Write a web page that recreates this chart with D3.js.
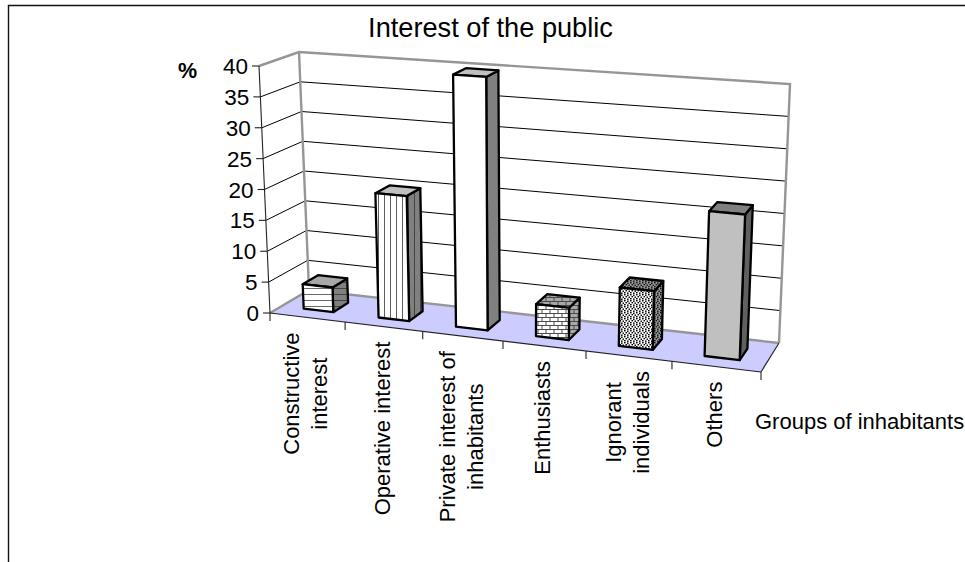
<!DOCTYPE html>
<html>
<head>
<meta charset="utf-8">
<style>
html,body{margin:0;padding:0;background:#fff;overflow:hidden}
text{font-family:"Liberation Sans",Arial,sans-serif;fill:#000}
</style>
<script src="https://cdn.jsdelivr.net/npm/d3@7"></script>
</head>
<body>
<svg id="chart" width="965" height="562"></svg>
<script>
const categories = [["Constructive","interest"],["Operative interest"],["Private interest of","inhabitants"],["Enthusiasts"],["Ignorant","individuals"],["Others"]];
const values = [4, 20, 40, 5, 9, 22];
const valueTicks = [0, 5, 10, 15, 20, 25, 30, 35, 40];
const frontFills = ["url(#hlines)", "url(#vlines)", "#ffffff", "url(#brick)", "url(#dots)", "#c0c0c0"];
const topFills = ["#a8a8a8", "#c0c0c0", "#c0c0c0", "url(#brickDark)", "url(#dotsDark)", "#808080"];
const sideFills = ["url(#hlinesDark)", "url(#vlinesDark)", "#808080", "url(#brickDark)", "url(#dotsDark)", "#606060"];

const svg = d3.select("#chart");

// Box corners on screen: front/back, bottom/top, left/right
const corners = {
  fbl: [270, 313], fbr: [761, 372], ftl: [259, 66], ftr: [772, 103],
  bbl: [309, 290], bbr: [779, 343], btl: [299, 52], btr: [790, 84]
};
const sideWeight = 0.903;

const uScale = d3.scaleBand().domain(d3.range(categories.length)).range([0, 1]).paddingInner(0.6).paddingOuter(0.3);
const vScale = d3.scaleLinear().domain([0, 40]).range([0, 1]);
const depthBar = [0.3, 0.7];

// Perspective-weighted interpolation across the box
function project(u, d, v) {
  const c = corners;
  const mix = (a, b, t) => [a[0] + (b[0] - a[0]) * t, a[1] + (b[1] - a[1]) * t];
  const fl = mix(c.fbl, c.ftl, v), fr = mix(c.fbr, c.ftr, v);
  const bl = mix(c.bbl, c.btl, v), br = mix(c.bbr, c.btr, v);
  const wu = sideWeight * u / ((1 - u) + sideWeight * u);
  return mix(mix(fl, fr, wu), mix(bl, br, wu), d);
}
const poly = pts => pts.map(p => p.map(n => n.toFixed(1)).join(",")).join(" ");

// Fill patterns for the bars
const defs = svg.append("defs");
function pattern(id, w, h, bg, draw) {
  const p = defs.append("pattern").attr("id", id).attr("patternUnits", "userSpaceOnUse").attr("width", w).attr("height", h);
  p.append("rect").attr("width", w).attr("height", h).attr("fill", bg);
  draw(p);
}
const hl = ink => p => p.append("line").attr("x1", 0).attr("x2", 6).attr("y1", 0.5).attr("y2", 0.5).attr("stroke", ink).attr("stroke-width", 0.8);
const vl = ink => p => p.append("line").attr("x1", 0.5).attr("x2", 0.5).attr("y1", 0).attr("y2", 6).attr("stroke", ink).attr("stroke-width", 0.8);
pattern("hlines", 6, 6, "#ffffff", hl("#444"));
pattern("hlinesDark", 6, 6, "#808080", hl("#333"));
pattern("vlines", 6, 6, "#ffffff", vl("#333"));
pattern("vlinesDark", 6, 6, "#808080", vl("#333"));
const brick = ink => p => p.append("path").attr("d", "M0 1.5H8M0 5.5H8M2 1.5V5.5M6 5.5V8M6 0V1.5").attr("fill", "none").attr("stroke", ink).attr("stroke-width", 0.8);
pattern("brick", 8, 8, "#ffffff", brick("#222"));
pattern("brickDark", 8, 8, "#a8a8a8", brick("#333"));
const dots = ink => p => {
  [[0, 0], [3, 0.5], [1.5, 2], [4.5, 2.5], [0, 4], [3, 4.5]].forEach(d => p.append("rect").attr("x", d[0]).attr("y", d[1]).attr("width", 1.6).attr("height", 1.4).attr("fill", ink));
};
pattern("dots", 6, 6, "#ffffff", dots("#000"));
pattern("dotsDark", 6, 6, "#999999", dots("#111"));

// Outer chart frame
svg.append("path").attr("d", "M8.5 562V5.5H965").attr("fill", "none").attr("stroke", "#111").attr("stroke-width", 1.4);

// Floor, gridlines, wall edges
const wallGrey = "#969696";
svg.append("polygon").attr("points", poly([project(0, 0, 0), project(1, 0, 0), project(1, 1, 0), project(0, 1, 0)])).attr("fill", "#ccccff");
valueTicks.slice(1, -1).forEach(t => {
  const v = vScale(t);
  svg.append("polyline").attr("points", poly([project(0, 0, v), project(0, 1, v), project(1, 1, v)])).attr("fill", "none").attr("stroke", "#000").attr("stroke-width", 1);
});
svg.append("polyline").attr("points", poly([project(0, 0, 0), project(0, 1, 0), project(1, 1, 0)])).attr("fill", "none").attr("stroke", wallGrey).attr("stroke-width", 2.4);
svg.append("polyline").attr("points", poly([project(0, 0, 1), project(0, 1, 1), project(1, 1, 1), project(1, 1, 0)])).attr("fill", "none").attr("stroke", wallGrey).attr("stroke-width", 2.4);
svg.append("polyline").attr("points", poly([project(0, 1, 0), project(0, 1, 1)])).attr("fill", "none").attr("stroke", wallGrey).attr("stroke-width", 2.4);

// Axis lines and tick marks
const axisInk = "#222";
const seg = (a, b) => svg.append("line").attr("x1", a[0]).attr("y1", a[1]).attr("x2", b[0]).attr("y2", b[1]).attr("stroke", axisInk).attr("stroke-width", 1.1);
seg(project(0, 0, 0), project(0, 0, 1));
seg(project(0, 0, 0), project(1, 0, 0));
seg(project(1, 0, 0), project(1, 1, 0));
valueTicks.forEach(t => {
  const p = project(0, 0, vScale(t));
  seg([p[0] - 7, p[1]], p);
  svg.append("text").attr("x", p[0] - 11).attr("y", p[1] + 8).attr("text-anchor", "end").attr("font-size", 22.5).text(t);
});
d3.range(categories.length + 1).forEach(i => {
  const p = project(i / categories.length, 0, 0);
  seg(p, [p[0], p[1] + 8]);
});

// Bars, drawn from their value through the band and value scales
values.forEach((val, i) => {
  const u0 = uScale(i), u1 = u0 + uScale.bandwidth(), v = vScale(val);
  const [d0, d1] = depthBar;
  const group = svg.append("g").attr("stroke", "#000").attr("stroke-width", 2.3).attr("stroke-linejoin", "round");
  group.append("polygon").attr("points", poly([project(u1, d0, 0), project(u1, d1, 0), project(u1, d1, v), project(u1, d0, v)])).attr("fill", sideFills[i]);
  group.append("polygon").attr("points", poly([project(u0, d0, v), project(u1, d0, v), project(u1, d1, v), project(u0, d1, v)])).attr("fill", topFills[i]);
  group.append("polygon").attr("points", poly([project(u0, d0, 0), project(u1, d0, 0), project(u1, d0, v), project(u0, d0, v)])).attr("fill", frontFills[i]);
});

// Category labels: rotated, each stack centred on its longest line
const labelSize = 22, lead = 28;
categories.forEach((lines, i) => {
  const p = project((i + 0.5) / categories.length, 0, 0);
  const t = svg.append("text").attr("font-size", labelSize).attr("text-anchor", "middle")
    .attr("transform", `translate(${p[0] - (lines.length - 1) * lead / 2 + 6},${p[1] + 15}) rotate(-90)`);
  const spans = lines.map((l, j) => t.append("tspan").attr("y", j * lead).text(l));
  const longest = d3.max(spans, s => s.node().getComputedTextLength());
  spans.forEach(s => s.attr("x", -longest / 2));
});

// Titles
svg.append("text").attr("x", 490.5).attr("y", 37).attr("text-anchor", "middle").attr("font-size", 27.2).text("Interest of the public");
svg.append("text").attr("x", 178).attr("y", 78).attr("font-size", 21.5).attr("font-weight", "bold").text("%");
svg.append("text").attr("x", 755).attr("y", 429).attr("font-size", labelSize).text("Groups of inhabitants");
</script>
</body>
</html>
